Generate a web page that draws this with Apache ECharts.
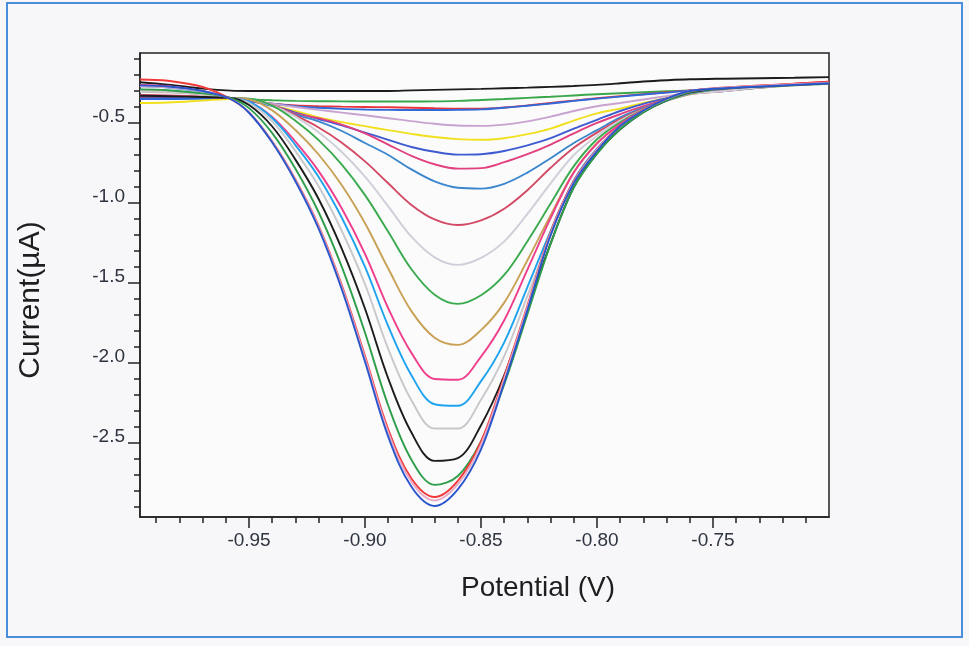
<!DOCTYPE html>
<html>
<head>
<meta charset="utf-8">
<script src="https://cdn.jsdelivr.net/npm/echarts@6/dist/echarts.min.js"></script>
<style>html,body{margin:0;padding:0;background:#f7f7f9;}#chart{width:969px;height:646px;}</style>
</head>
<body>
<div id="chart"></div>
<script>
// Potential (V)
const potential = [-0.997, -0.985, -0.97, -0.958, -0.95, -0.94, -0.93, -0.92, -0.91, -0.90, -0.89, -0.88, -0.87, -0.86, -0.85, -0.84, -0.83, -0.82, -0.81, -0.80, -0.79, -0.78, -0.77, -0.76, -0.745, -0.73, -0.715, -0.70];

// Current (µA) for each scan
const c01 = [-0.245, -0.26, -0.285, -0.298, -0.30, -0.30, -0.30, -0.30, -0.30, -0.30, -0.30, -0.296, -0.293, -0.29, -0.287, -0.283, -0.279, -0.274, -0.269, -0.262, -0.252, -0.241, -0.233, -0.227, -0.223, -0.22, -0.217, -0.213];
const c02 = [-0.345, -0.345, -0.345, -0.345, -0.352, -0.358, -0.362, -0.364, -0.365, -0.366, -0.366, -0.366, -0.365, -0.362, -0.356, -0.35, -0.343, -0.336, -0.328, -0.32, -0.314, -0.308, -0.302, -0.296, -0.286, -0.275, -0.263, -0.252];
const c03 = [-0.34, -0.34, -0.342, -0.346, -0.365, -0.38, -0.39, -0.395, -0.398, -0.40, -0.402, -0.405, -0.408, -0.41, -0.41, -0.403, -0.39, -0.375, -0.36, -0.345, -0.332, -0.32, -0.308, -0.296, -0.282, -0.268, -0.255, -0.242];
const c04 = [-0.35, -0.35, -0.348, -0.346, -0.36, -0.38, -0.395, -0.405, -0.412, -0.416, -0.418, -0.419, -0.419, -0.418, -0.415, -0.405, -0.392, -0.378, -0.362, -0.348, -0.335, -0.322, -0.31, -0.298, -0.285, -0.272, -0.258, -0.245];
const c05 = [-0.30, -0.305, -0.32, -0.344, -0.36, -0.38, -0.40, -0.418, -0.435, -0.452, -0.47, -0.488, -0.505, -0.516, -0.518, -0.51, -0.49, -0.46, -0.425, -0.395, -0.375, -0.353, -0.332, -0.312, -0.29, -0.275, -0.262, -0.252];
const c06 = [-0.375, -0.372, -0.36, -0.35, -0.36, -0.39, -0.425, -0.465, -0.495, -0.52, -0.545, -0.568, -0.588, -0.601, -0.605, -0.595, -0.57, -0.535, -0.485, -0.44, -0.41, -0.375, -0.345, -0.318, -0.298, -0.28, -0.265, -0.255];
const c07 = [-0.335, -0.337, -0.34, -0.344, -0.36, -0.39, -0.435, -0.475, -0.515, -0.56, -0.605, -0.65, -0.68, -0.698, -0.695, -0.675, -0.64, -0.595, -0.535, -0.48, -0.425, -0.38, -0.345, -0.315, -0.29, -0.272, -0.26, -0.25];
const c08 = [-0.33, -0.332, -0.337, -0.344, -0.36, -0.39, -0.44, -0.47, -0.51, -0.565, -0.635, -0.705, -0.758, -0.785, -0.782, -0.745, -0.695, -0.635, -0.565, -0.50, -0.445, -0.395, -0.352, -0.318, -0.295, -0.275, -0.26, -0.248];
const c09 = [-0.33, -0.332, -0.337, -0.344, -0.36, -0.395, -0.447, -0.49, -0.55, -0.625, -0.70, -0.79, -0.865, -0.905, -0.91, -0.88, -0.81, -0.72, -0.625, -0.545, -0.465, -0.405, -0.355, -0.318, -0.30, -0.28, -0.265, -0.255];
const c10 = [-0.325, -0.328, -0.335, -0.344, -0.35, -0.389, -0.453, -0.528, -0.623, -0.74, -0.877, -1.012, -1.103, -1.138, -1.109, -1.036, -0.92, -0.78, -0.655, -0.56, -0.475, -0.41, -0.36, -0.32, -0.30, -0.278, -0.262, -0.25];
const c11 = [-0.305, -0.31, -0.323, -0.344, -0.35, -0.39, -0.46, -0.558, -0.681, -0.836, -1.021, -1.211, -1.34, -1.387, -1.343, -1.24, -1.068, -0.877, -0.70, -0.58, -0.485, -0.415, -0.36, -0.32, -0.30, -0.278, -0.262, -0.25];
const c12 = [-0.295, -0.30, -0.318, -0.344, -0.348, -0.392, -0.486, -0.607, -0.76, -0.951, -1.18, -1.414, -1.573, -1.631, -1.577, -1.45, -1.239, -1.004, -0.77, -0.602, -0.495, -0.416, -0.36, -0.317, -0.285, -0.272, -0.262, -0.252];
const c13 = [-0.30, -0.305, -0.32, -0.344, -0.352, -0.421, -0.544, -0.697, -0.889, -1.127, -1.41, -1.676, -1.842, -1.887, -1.795, -1.623, -1.358, -1.077, -0.807, -0.625, -0.508, -0.422, -0.36, -0.316, -0.285, -0.272, -0.262, -0.252];
const c14 = [-0.262, -0.27, -0.30, -0.344, -0.367, -0.463, -0.617, -0.801, -1.035, -1.319, -1.658, -1.937, -2.10, -2.105, -1.96, -1.733, -1.416, -1.095, -0.809, -0.629, -0.506, -0.418, -0.354, -0.312, -0.282, -0.27, -0.258, -0.246];
const c15 = [-0.27, -0.278, -0.305, -0.344, -0.367, -0.469, -0.638, -0.837, -1.092, -1.40, -1.77, -2.077, -2.258, -2.268, -2.114, -1.871, -1.526, -1.176, -0.859, -0.661, -0.525, -0.429, -0.36, -0.313, -0.284, -0.272, -0.261, -0.25];
const c16 = [-0.30, -0.305, -0.32, -0.344, -0.375, -0.489, -0.676, -0.895, -1.175, -1.508, -1.912, -2.233, -2.41, -2.41, -2.23, -1.958, -1.582, -1.206, -0.871, -0.671, -0.53, -0.429, -0.358, -0.31, -0.284, -0.272, -0.262, -0.252];
const c17 = [-0.33, -0.333, -0.338, -0.344, -0.388, -0.522, -0.729, -0.975, -1.287, -1.661, -2.097, -2.435, -2.612, -2.595, -2.389, -2.077, -1.665, -1.253, -0.901, -0.69, -0.54, -0.433, -0.358, -0.31, -0.284, -0.272, -0.262, -0.252];
const c18 = [-0.29, -0.295, -0.315, -0.344, -0.407, -0.563, -0.786, -1.058, -1.40, -1.811, -2.266, -2.605, -2.762, -2.707, -2.49, -2.134, -1.695, -1.256, -0.904, -0.692, -0.538, -0.432, -0.357, -0.306, -0.283, -0.271, -0.26, -0.25];
const c19 = [-0.228, -0.236, -0.275, -0.35, -0.434, -0.616, -0.853, -1.143, -1.515, -1.957, -2.415, -2.722, -2.838, -2.737, -2.491, -2.085, -1.641, -1.182, -0.863, -0.665, -0.517, -0.42, -0.348, -0.301, -0.278, -0.266, -0.255, -0.242];
const c20 = [-0.27, -0.277, -0.303, -0.35, -0.435, -0.619, -0.858, -1.15, -1.525, -1.971, -2.434, -2.743, -2.86, -2.758, -2.51, -2.10, -1.652, -1.19, -0.868, -0.668, -0.518, -0.421, -0.349, -0.30, -0.28, -0.268, -0.258, -0.248];
const c21 = [-0.265, -0.272, -0.30, -0.35, -0.436, -0.622, -0.864, -1.161, -1.541, -1.993, -2.461, -2.774, -2.894, -2.79, -2.54, -2.124, -1.67, -1.201, -0.875, -0.675, -0.519, -0.422, -0.348, -0.30, -0.283, -0.272, -0.262, -0.252];

const scans = [c01, c02, c03, c04, c05, c06, c07, c08, c09, c10, c11, c12, c13, c14, c15, c16, c17, c18, c19, c20, c21];
const scanColors = ['#1c1c1c', '#3aa84a', '#e8343a', '#2f6ad8', '#c9a3cf', '#f0e01e', '#3f5bd0', '#e2407e', '#3b86cc', '#d24a64', '#cfcfd9', '#3aaa4e', '#c9a155', '#ef3f8c', '#1ea3ee', '#c8c8cc', '#1c1c1c', '#2f9e4a', '#f03a3a', '#e7a9c4', '#2a56cc'];

// tick values
const xMajor = [-0.95, -0.90, -0.85, -0.80, -0.75];
const xMinor = [-0.99, -0.98, -0.97, -0.96, -0.94, -0.93, -0.92, -0.91, -0.89, -0.88, -0.87, -0.86, -0.84, -0.83, -0.82, -0.81, -0.79, -0.78, -0.77, -0.76, -0.74, -0.73, -0.72, -0.71];
const yMajor = [-2.5, -2.0, -1.5, -1.0, -0.5];
const yMinor = [-2.9, -2.8, -2.7, -2.6, -2.4, -2.3, -2.2, -2.1, -1.9, -1.8, -1.7, -1.6, -1.4, -1.3, -1.2, -1.1, -0.9, -0.8, -0.7, -0.6, -0.4, -0.3, -0.2, -0.1];

const X_MIN = -0.997, X_MAX = -0.70, Y_MIN = -2.963, Y_MAX = -0.0625;

const chart = echarts.init(document.getElementById('chart'), null, {renderer: 'canvas'});
const axisColor = '#222';
const labelColor = '#2e3340';
const FONT = '"Liberation Sans", Arial, sans-serif';

const option = {
  animation: false,
  backgroundColor: '#f7f7f9',
  grid: {left: 140, top: 53, width: 689, height: 464, show: true, borderColor: axisColor, borderWidth: 1.5, backgroundColor: '#fbfbfc'},
  xAxis: [{
    type: 'value', min: X_MIN, max: X_MAX, position: 'bottom',
    axisLine: {show: true, onZero: false, lineStyle: {color: axisColor, width: 1.5}},
    axisTick: {show: true, length: 11, customValues: xMajor, lineStyle: {color: axisColor, width: 1.5}},
    axisLabel: {customValues: xMajor, formatter: v => v.toFixed(2), fontSize: 19, fontFamily: FONT, color: labelColor, margin: 14},
    splitLine: {show: false}
  }, {
    type: 'value', min: X_MIN, max: X_MAX, position: 'bottom',
    axisLine: {show: false, onZero: false},
    axisTick: {show: true, length: 6, customValues: xMinor, lineStyle: {color: axisColor, width: 1.5}},
    axisLabel: {show: false, customValues: xMinor},
    splitLine: {show: false}
  }],
  yAxis: [{
    type: 'value', min: Y_MIN, max: Y_MAX, position: 'left',
    axisLine: {show: true, onZero: false, lineStyle: {color: axisColor, width: 1.5}},
    axisTick: {show: true, length: 12, customValues: yMajor, lineStyle: {color: axisColor, width: 1.5}},
    axisLabel: {customValues: yMajor, formatter: v => v.toFixed(1), fontSize: 19, fontFamily: FONT, color: labelColor, margin: 15, verticalAlign: 'bottom', lineHeight: 12},
    splitLine: {show: false}
  }, {
    type: 'value', min: Y_MIN, max: Y_MAX, position: 'left',
    axisLine: {show: false, onZero: false},
    axisTick: {show: true, length: 6, customValues: yMinor, lineStyle: {color: axisColor, width: 1.5}},
    axisLabel: {show: false, customValues: yMinor},
    splitLine: {show: false}
  }],
  series: scans.map((ys, i) => ({
    type: 'line',
    xAxisIndex: 0, yAxisIndex: 0,
    data: potential.map((v, k) => [v, ys[k]]),
    showSymbol: false,
    smooth: 0.35,
    lineStyle: {color: scanColors[i], width: 1.9},
    z: 2 + i
  })),
  graphic: [
    {type: 'rect', silent: true, shape: {x: 7, y: 3, width: 955, height: 634}, style: {fill: 'none', stroke: '#4a8fdc', lineWidth: 2}},
    {type: 'text', silent: true, x: 31, y: 300, rotation: Math.PI / 2, style: {text: 'Current(µA)', font: '30px ' + FONT, fill: '#1e1e1e', textAlign: 'center', textVerticalAlign: 'middle'}},
    {type: 'text', silent: true, x: 538, y: 588, style: {text: 'Potential (V)', font: '28px ' + FONT, fill: '#1e1e1e', textAlign: 'center', textVerticalAlign: 'middle'}}
  ]
};
chart.setOption(option);
</script>
</body>
</html>
